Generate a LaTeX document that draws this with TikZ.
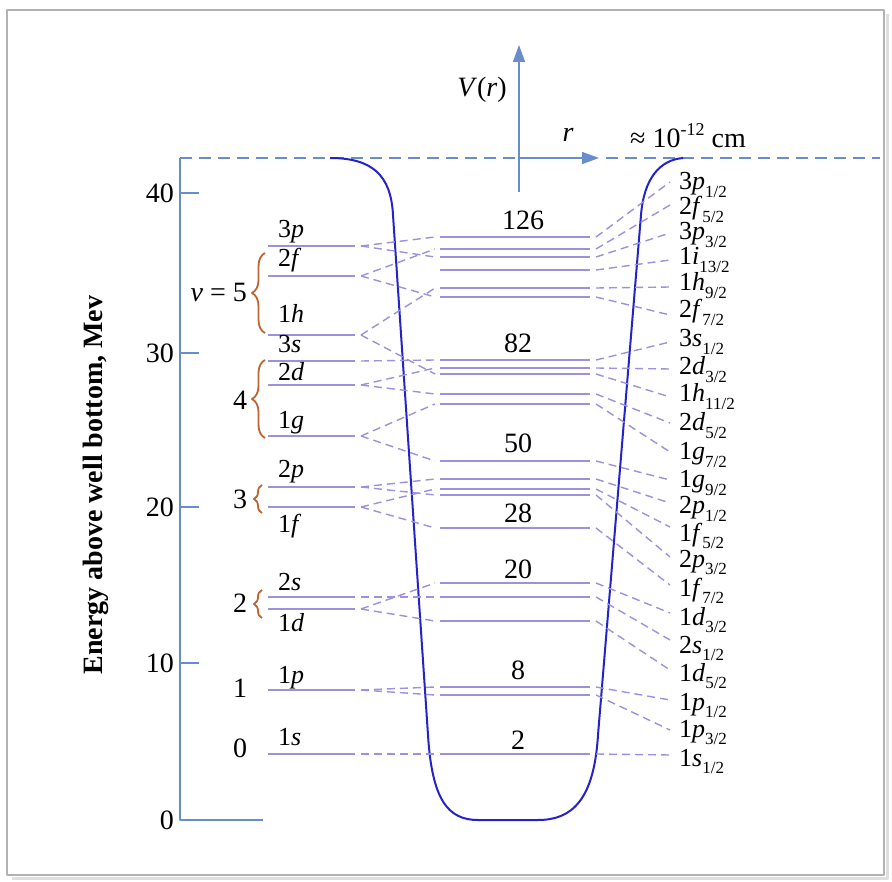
\documentclass[tikz,border=0pt]{standalone}
\usepackage{fontspec}
\setmainfont{Liberation Serif}
\usetikzlibrary{arrows.meta,decorations.pathreplacing}
\definecolor{axisblue}{RGB}{105,140,205}
\definecolor{wellblue}{RGB}{35,35,200}
\definecolor{levelpurple}{RGB}{155,145,220}
\definecolor{bracebrown}{RGB}{190,100,50}
\newcommand{\jsub}[1]{\raisebox{-0.3em}{\fontsize{17}{19}\selectfont #1}}
\newcommand{\jsup}[1]{\raisebox{0.42em}{\fontsize{18}{20}\selectfont #1}}

\begin{document}
\begin{tikzpicture}[x=1pt,y=-1pt,line join=round,
  every node/.style={inner sep=0pt},
  axisline/.style={axisblue,line width=1.6},
  wall/.style={wellblue,line width=2},
  level/.style={levelpurple,line width=1.8},
  link/.style={levelpurple,line width=1.4,dash pattern=on 8pt off 5pt},
  brc/.style={bracebrown,line width=1.8,decorate,decoration={brace,amplitude=#1}},
  brc/.default=10,
  bigtxt/.style={font=\fontsize{28}{32}\selectfont},
  lvltxt/.style={font=\fontsize{26}{30}\selectfont}]
  \useasboundingbox (0,0) rectangle (892,882);
  % frame
  \draw[gray!25,line width=3] (12,878) -- (887,878) -- (887,14);
  \draw[gray!60,line width=1.5] (7,10) rectangle (884,875);

  % energy axis
  \draw[axisline] (180,158) -- (180,820) -- (263,820);
  \foreach \e/\y in {0/820,10/663,20/507,30/353,40/193}{
    \draw[axisline] (180,\y) -- (199,\y);
    \node[bigtxt,anchor=east] (tk\e) at (174,\y) {\e};
  }
  \node[rotate=90,font=\fontsize{28}{32}\selectfont\bfseries] (ylab) at (96,485)
    {Energy above well bottom, Mev};

  % V(r) and r axes
  \draw[axisline,dash pattern=on 12pt off 7pt] (180,158) -- (519,158);
  \draw[axisline,dash pattern=on 12pt off 7pt] (606,158) -- (880,158);
  \coordinate (o) at (519,158);
  \coordinate (vtop) at (519,45);
  \coordinate (vbot) at (519,192);
  \coordinate (rtip) at (599,158);
  \draw[axisline,-{Triangle[length=17pt,width=12pt]}] (vbot) -- (vtop);
  \draw[axisline,-{Triangle[length=17pt,width=12pt]}] (o) -- (rtip);
  \node[bigtxt] (vlab) at (482,90) {\textit{V}(\textit{r})};
  \node[bigtxt] (rlab) at (568,135) {\textit{r}};
  \node[bigtxt] (size) at (688,136) {≈ 10\jsup{-12} cm};

  % the well
  \draw[wall] (330,158) .. controls (372,158) and (391,175) .. (393,215)
    -- (428,735) .. controls (432,800) and (448,820) .. (478,820)
    -- (538,820) .. controls (572,820) and (594,800) .. (598,735)
    -- (641,215) .. controls (644,178) and (660,160) .. (683,158);

  % oscillator levels (left)
  \foreach \nm/\dg/\lt/\y/\dy in {3p/3/p/246/-8,2f/2/f/276/-9,1h/1/h/335/-12,
      3s/3/s/361/-8,2d/2/d/385/-4,1g/1/g/436/-7,2p/2/p/487/-9,1f/1/f/507/25,
      2s/2/s/597/-7,1d/1/d/609/22,1p/1/p/690/-7,1s/1/s/754/-9}{
    \coordinate (L\nm-a) at (268,\y);
    \coordinate (L\nm-b) at (355,\y);
    \coordinate (L\nm-c) at (361,\y);
    \draw[level] (L\nm-a) -- (L\nm-b);
    \node[lvltxt,anchor=base west] (T\nm) at (278,{\y+\dy}) {\dg\textit{\lt}};
  }
  \node[bigtxt,anchor=east] (n5) at (247,292) {\textit{v} = 5};
  \node[bigtxt] (n4) at (240,400) {4};
  \node[bigtxt] (n3) at (240,499) {3};
  \node[bigtxt] (n2) at (240,603) {2};
  \node[bigtxt] (n1) at (240,688) {1};
  \node[bigtxt] (n0) at (240,748) {0};
  \draw[brc=13] (265,333) -- (265,253);
  \draw[brc=13] (265,438) -- (265,360);
  \draw[brc=8] (262,513) -- (262,485);
  \draw[brc=8] (262,618) -- (262,590);

  % spin-orbit levels (middle) and their labels (right)
  \foreach \i/\y/\e/\bl/\dg/\lt/\sn/\sd in {0/237/182/190/3/p/1/2,
      1/249/205/215/2/f/5/2,2/257/233/240/3/p/3/2,3/270/260/265/1/i/13/2,
      4/288/287/291/1/h/9/2,5/297/315/318/2/f/7/2,6/360/342/347/3/s/1/2,
      7/368/369/375/2/d/3/2,8/374/397/402/1/h/11/2,9/394/423/431/2/d/5/2,
      10/404/452/460/1/g/7/2,11/461/480/488/1/g/9/2,12/479/503/514/2/p/1/2,
      13/489/527/541/1/f/5/2,14/495/557/567/2/p/3/2,15/528/585/596/1/f/7/2,
      16/583/613/625/1/d/3/2,17/597/640/653/2/s/1/2,18/621/670/681/1/d/5/2,
      19/687/700/710/1/p/1/2,20/695/730/737/1/p/3/2,21/754/755/766/1/s/1/2}{
    \coordinate (M\i-a) at (440,\y);
    \coordinate (M\i-b) at (590,\y);
    \coordinate (M\i-l) at (435,\y);
    \coordinate (M\i-r) at (596,\y);
    \coordinate (R\i-e) at (670,\e);
    \draw[level] (M\i-a) -- (M\i-b);
    \draw[link] (M\i-r) -- (R\i-e);
    \node[lvltxt,anchor=base west] (R\i) at (679,\bl) {\dg\textit{\lt}\jsub{\sn/\sd}};
  }
  \foreach \nm/\i in {3p/0,3p/2,2f/1,2f/5,1h/4,1h/8,3s/6,2d/7,2d/9,1g/10,1g/11,
      2p/12,2p/14,1f/13,1f/15,2s/17,1d/16,1d/18,1p/19,1p/20,1s/21}
    \draw[link] (L\nm-c) -- (M\i-l);

  % magic numbers
  \node[bigtxt] (m126) at (523,220) {126};
  \node[bigtxt] (m82) at (518,343) {82};
  \node[bigtxt] (m50) at (518,443) {50};
  \node[bigtxt] (m28) at (518,513) {28};
  \node[bigtxt] (m20) at (518,569) {20};
  \node[bigtxt] (m8) at (518,670) {8};
  \node[bigtxt] (m2) at (518,740) {2};
\end{tikzpicture}
\end{document}
